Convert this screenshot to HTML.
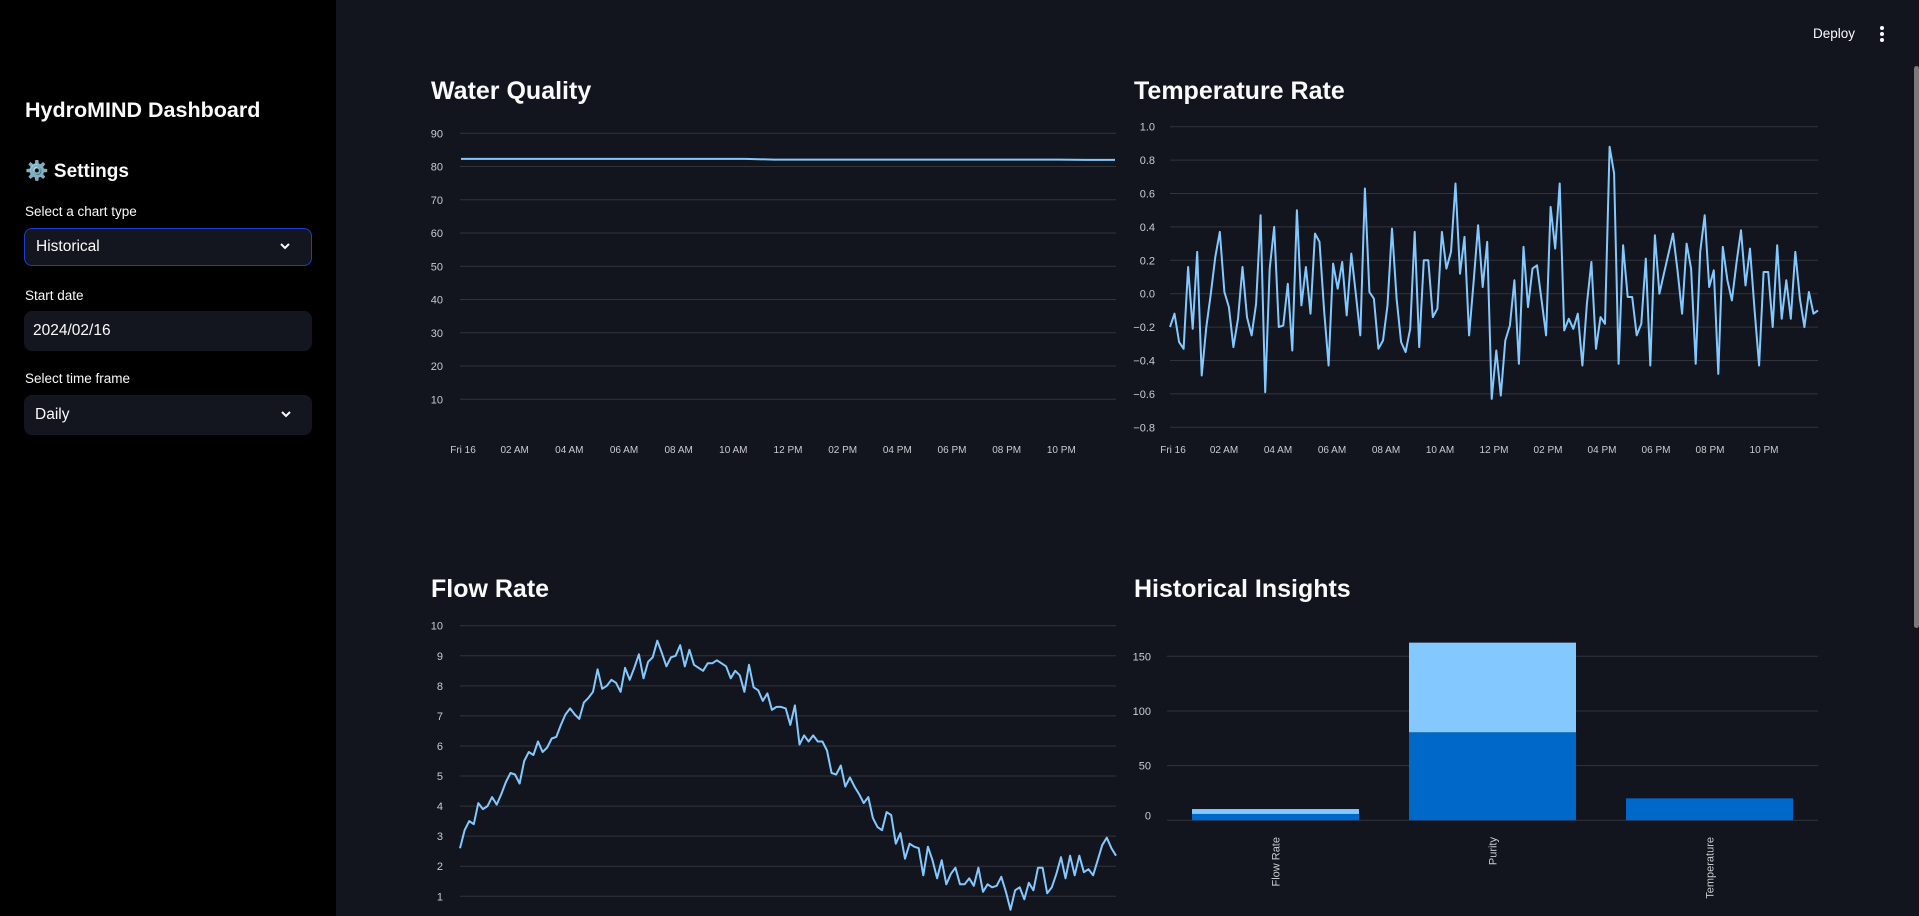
<!DOCTYPE html>
<html><head><meta charset="utf-8">
<style>
html,body{margin:0;padding:0;width:1919px;height:916px;overflow:hidden;background:#12151d;font-family:"Liberation Sans",sans-serif;}
#sidebar{position:absolute;left:0;top:0;width:336px;height:916px;background:#000;color:#fafafa;}
.lbl{position:absolute;left:25px;font-size:13.5px;color:#fafafa;}
.box{position:absolute;left:24px;width:288px;height:40px;background:#13161e;border-radius:8px;box-sizing:border-box;color:#fafafa;font-size:15.5px;line-height:40px;padding-left:11px;}
.chev{position:absolute;right:20px;top:14px;width:12px;height:10px;}
svg text{font-family:"Liberation Sans",sans-serif;}
.title{position:absolute;color:#fafafa;font-size:25px;font-weight:bold;}
</style></head><body>
<div id="sidebar">
  <div style="position:absolute;left:25px;top:98px;font-size:21.5px;font-weight:bold;">HydroMIND Dashboard</div>
  <div style="position:absolute;left:25px;top:159px;font-size:19px;font-weight:bold;">⚙️ Settings</div>
  <div class="lbl" style="top:204px;">Select a chart type</div>
  <div class="box" style="top:228px;height:38px;line-height:36px;border:1px solid #1f3bd6;">Historical<svg class="chev" style="top:12px" viewBox="0 0 12 10"><path d="M2 3 L6 7 L10 3" stroke="#fafafa" stroke-width="2" fill="none"/></svg></div>
  <div class="lbl" style="top:288px;">Start date</div>
  <div class="box" style="top:311px;padding-left:9px;">2024/02/16</div>
  <div class="lbl" style="top:371px;">Select time frame</div>
  <div class="box" style="top:395px;">Daily<svg class="chev" viewBox="0 0 12 10"><path d="M2 3 L6 7 L10 3" stroke="#fafafa" stroke-width="2" fill="none"/></svg></div>
</div>
<div style="position:absolute;left:1813px;top:26px;color:#fafafa;font-size:13.5px;">Deploy</div>
<div style="position:absolute;left:1880px;top:26px;width:4px;">
  <div style="width:4px;height:4px;border-radius:2px;background:#fafafa;margin-bottom:2px"></div>
  <div style="width:4px;height:4px;border-radius:2px;background:#fafafa;margin-bottom:2px"></div>
  <div style="width:4px;height:4px;border-radius:2px;background:#fafafa"></div>
</div>
<div style="position:absolute;left:1914px;top:66px;width:5px;height:562px;background:#7a7a7a;border-radius:3px;"></div>

<div class="title" style="left:431px;top:77px;">Water Quality</div>
<div class="title" style="left:1134px;top:77px;">Temperature Rate</div>
<div class="title" style="left:431px;top:575px;">Flow Rate</div>
<div class="title" style="left:1134px;top:575px;">Historical Insights</div>

<svg id="charts" width="1919" height="916" style="position:absolute;left:0;top:0;pointer-events:none"></svg>
<script>
const timeLabels=["Fri 16","02 AM","04 AM","06 AM","08 AM","10 AM","12 PM","02 PM","04 PM","06 PM","08 PM","10 PM"];
const wqTicks=[10,20,30,40,50,60,70,80,90];
const wqValues=[82.3,82.3,82.3,82.3,82.3,82.3,82.3,82.3,82.3,82.3,82.3,82.1,82.1,82.1,82.1,82.1,82.1,82.1,82.1,82.1,82.1,82.1,82.0,82.0];
const tempTicks=[-0.8,-0.6,-0.4,-0.2,0,0.2,0.4,0.6,0.8,1.0];
const tempValues=[-0.2,-0.12,-0.29,-0.33,0.16,-0.21,0.25,-0.49,-0.2,0.0,0.22,0.37,0.01,-0.08,-0.32,-0.15,0.16,-0.14,-0.25,-0.06,0.47,-0.59,0.15,0.4,-0.2,-0.19,0.06,-0.34,0.5,-0.07,0.16,-0.12,0.36,0.31,-0.1,-0.43,0.18,0.03,0.19,-0.13,0.24,0.0,-0.25,0.63,0.01,-0.03,-0.33,-0.28,-0.07,0.39,-0.03,-0.29,-0.35,-0.21,0.37,-0.32,0.2,0.2,-0.14,-0.09,0.37,0.15,0.25,0.66,0.12,0.34,-0.25,0.07,0.41,0.04,0.31,-0.63,-0.34,-0.61,-0.28,-0.19,0.08,-0.42,0.28,-0.08,0.15,0.17,-0.04,-0.25,0.52,0.27,0.66,-0.22,-0.15,-0.21,-0.12,-0.43,-0.06,0.19,-0.33,-0.14,-0.18,0.88,0.72,-0.42,0.29,-0.02,-0.02,-0.25,-0.18,0.21,-0.43,0.35,0.0,0.12,0.24,0.36,0.14,-0.12,0.3,0.15,-0.42,0.25,0.47,0.04,0.14,-0.48,0.28,0.08,-0.04,0.18,0.38,0.05,0.27,-0.1,-0.43,0.13,0.13,-0.2,0.29,-0.15,0.08,-0.15,0.25,-0.03,-0.2,0.01,-0.12,-0.1];
const flowTicks=[1,2,3,4,5,6,7,8,9,10];
const flowValues=[2.6,3.2,3.5,3.4,4.1,3.9,4.0,4.3,4.05,4.4,4.8,5.1,5.05,4.75,5.5,5.8,5.7,6.15,5.8,5.95,6.25,6.3,6.7,7.05,7.25,7.05,6.9,7.45,7.6,7.8,8.55,7.9,8.0,8.2,8.1,7.8,8.6,8.2,8.6,9.05,8.25,8.8,8.95,9.5,9.1,8.65,8.95,9.0,9.35,8.65,9.2,8.7,8.6,8.5,8.75,8.75,8.85,8.75,8.65,8.25,8.5,8.35,7.8,8.7,7.95,7.85,7.5,7.75,7.2,7.3,7.3,7.25,6.7,7.35,6.05,6.35,6.15,6.35,6.15,6.15,5.85,5.1,5.05,5.35,4.65,4.95,4.65,4.4,4.1,4.3,3.6,3.3,3.2,3.8,3.7,2.75,3.1,2.25,2.75,2.65,2.6,1.7,2.65,2.2,1.6,2.2,1.4,1.75,1.95,1.4,1.4,1.6,1.35,1.95,1.15,1.4,1.3,1.35,1.65,1.15,0.55,1.2,1.3,0.9,1.45,1.2,1.95,1.95,1.1,1.3,1.75,2.3,1.6,2.35,1.7,2.35,1.8,1.9,1.7,2.2,2.7,2.95,2.6,2.35];
const barCategories=["Flow Rate","Purity","Temperature"];
const barDark=[5.8,80.5,20.1];
const barLight=[4.5,82,0];
const barTicks=[0,50,100,150];

const NS="http://www.w3.org/2000/svg";
const svg=document.getElementById('charts');
function mk(tag,attrs,parent){const e=document.createElementNS(NS,tag);for(const k in attrs)e.setAttribute(k,attrs[k]);(parent||svg).appendChild(e);return e;}
function lin(d0,d1,r0,r1){return v=>r0+(v-d0)*(r1-r0)/(d1-d0);}

function lineChart(name,ticks,values,x0,x1,yScale,yFmt,labelX,xLabY,t0,t1){
  const g=mk('g',{});
  
  
  ticks.forEach(t=>{
    const y=yScale(t);
    const l=mk('line',{x1:x0,x2:x1,y1:y,y2:y,stroke:'#31343c','stroke-width':1},g);
    
    
    const tx=mk('text',{x:labelX,y:y+4,fill:'#c9cbd0','font-size':11,'text-anchor':'end'},g);
    tx.textContent=yFmt(t);
    
    
  });
  if(xLabY>0){
    const xs=lin(0,24,x0,x1);
    timeLabels.forEach((s,i)=>{
      const tx=mk('text',{x:xs(i*2)+(i===0?3:0),y:xLabY,fill:'#c9cbd0','font-size':10,'text-anchor':'middle'},g);
      tx.textContent=s;
      
      
    });
  }
  const n=values.length;
  const px=lin(0,n-1,t0,t1);
  const pts=values.map((v,i)=>px(i).toFixed(1)+','+yScale(v).toFixed(1)).join(' ');
  const pl=mk('polyline',{points:pts,fill:'none',stroke:'#83c9ff','stroke-width':2,'stroke-linejoin':'round'},g);
  
  
}
lineChart('water-quality-chart',wqTicks,wqValues,460,1116,lin(10,90,399.3,133.3),v=>String(v),443,453,461,1115);
lineChart('temperature-rate-chart',tempTicks,tempValues,1170,1818,lin(-0.8,1.0,427.3,126.7),v=>(v<0?'−':'')+Math.abs(v).toFixed(1),1155,453,1170,1818);
lineChart('flow-rate-chart',flowTicks,flowValues,460,1116,lin(1,10,896.3,625.7),v=>String(v),443,0,460,1116);

const bg=mk('g',{});


const by=lin(0,150,820.3,656.3);
barTicks.forEach(t=>{
  const y=by(t);
  const l=mk('line',{x1:1167,x2:1818,y1:y,y2:y,stroke:'#31343c','stroke-width':1},bg);
  
  
  const tx=mk('text',{x:1151,y:t===0?y-1:y+4,fill:'#c9cbd0','font-size':11,'text-anchor':'end'},bg);
  tx.textContent=String(t);
  
  
});
const band=(1818-1167)/barCategories.length;
barCategories.forEach((c,i)=>{
  const bx=1167+band*i+25, bw=band-50, cx=1167+band*(i+0.5);
  const d=mk('rect',{x:bx,y:by(barDark[i]),width:bw,height:by(0)-by(barDark[i]),fill:'#0068c9'},bg);
  
  
  if(barLight[i]>0){
    const top=barDark[i]+barLight[i];
    const l=mk('rect',{x:bx,y:by(top),width:bw,height:by(barDark[i])-by(top),fill:'#83c9ff'},bg);
    
    
  }
  const tx=mk('text',{x:0,y:0,fill:'#c9cbd0','font-size':11,'text-anchor':'end',transform:`translate(${cx+4},837) rotate(-90)`},bg);
  tx.textContent=c;
  
  
});
</script>
</body></html>
